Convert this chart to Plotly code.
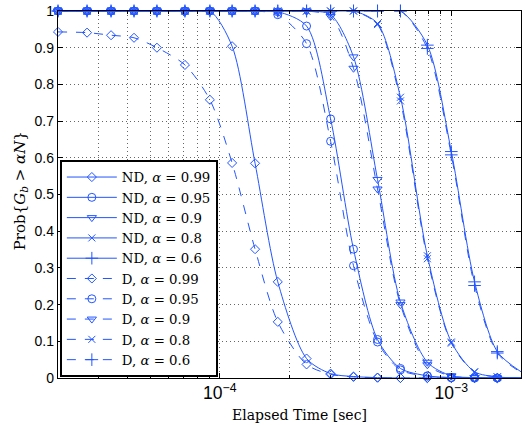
import math
import plotly.graph_objects as go

# elapsed time at the marker positions [sec]
elapsed = [2.0e-5, 2.67e-5, 3.39e-5, 4.26e-5, 5.35e-5, 7.07e-5, 9.06e-5, 1.13e-4,
           1.42e-4, 1.78e-4, 2.37e-4, 3.01e-4, 3.78e-4, 4.80e-4, 6.03e-4, 7.88e-4,
           1.0e-3, 1.26e-3, 1.58e-3, 2.0e-3]

# ND curves (solid)
nd_099 = [1, 1, 1, 1, 1, 1, 1, 0.904, 0.585, 0.262, 0.053, 0.012, 0.004, 0.001,
          0, 0, 0, 0, 0, 0]
nd_095 = [1, 1, 1, 1, 1, 1, 1, 1, 1, 0.998, 0.959, 0.706, 0.351, 0.105, 0.026,
          0.006, 0.001, 0, 0, 0]
nd_09 = [1, 1, 1, 1, 1, 1, 1, 1, 1, 1, 1, 0.99, 0.875, 0.541, 0.207, 0.043,
         0.006, 0.001, 0, 0]
nd_08 = [1, 1, 1, 1, 1, 1, 1, 1, 1, 1, 1, 1, 1, 0.966, 0.765, 0.333, 0.098,
         0.017, 0.003, 0]
nd_06 = [1, 1, 1, 1, 1, 1, 1, 1, 1, 1, 1, 1, 1, 1, 1, 0.907, 0.617, 0.262,
         0.072, 0.017]

# D curves (dashed)
d_099 = [0.943, 0.941, 0.934, 0.927, 0.90, 0.853, 0.758, 0.586, 0.351, 0.153,
         0.037, 0.01, 0.003, 0.001, 0, 0, 0, 0, 0, 0]
d_095 = [1, 1, 1, 1, 1, 1, 1, 1, 1, 0.99, 0.911, 0.645, 0.306, 0.098, 0.022,
         0.005, 0.001, 0, 0, 0]
d_09 = [1, 1, 1, 1, 1, 1, 1, 1, 1, 1, 1, 0.985, 0.844, 0.515, 0.20, 0.036,
        0.005, 0.001, 0, 0]
d_08 = [1, 1, 1, 1, 1, 1, 1, 1, 1, 1, 1, 1, 1, 0.963, 0.755, 0.325, 0.095,
        0.016, 0.003, 0]
d_06 = [1, 1, 1, 1, 1, 1, 1, 1, 1, 1, 1, 1, 1, 1, 1, 0.898, 0.608, 0.252,
        0.068, 0.015]

alphas = ['0.99', '0.95', '0.9', '0.8', '0.6']
symbols = ['diamond-open', 'circle-open', 'triangle-down-open', 'x-thin-open', 'cross-thin-open']
sizes = [7, 8, 8, 7, 9]

blue = 'rgb(35,85,255)'
serif = 'DejaVu Serif'

fig = go.Figure()

for kind, dash, curves in [('ND', 'solid', [nd_099, nd_095, nd_09, nd_08, nd_06]),
                           ('D', 'dash', [d_099, d_095, d_09, d_08, d_06])]:
    for a, sym, sz, ys in zip(alphas, symbols, sizes, curves):
        fig.add_trace(go.Scatter(
            x=elapsed, y=ys, mode='lines+markers',
            name=kind + ', <i>α</i> = ' + a,
            line=dict(color=blue, width=1, dash=dash, shape='spline', smoothing=0.8),
            marker=dict(symbol=sym, size=sz, color=blue, line=dict(width=1, color=blue)),
            cliponaxis=False,
        ))

fig.update_layout(
    width=525, height=425,
    margin=dict(l=58, r=3, t=9, b=47),
    plot_bgcolor='white', paper_bgcolor='white',
    font=dict(family='Liberation Sans', size=14, color='black'),
    showlegend=True,
    legend=dict(
        x=0.004, y=0.003, xanchor='left', yanchor='bottom',
        bgcolor='white', bordercolor='black', borderwidth=2,
        font=dict(family=serif, size=13.3),
        itemwidth=50,
        tracegroupgap=0,
    ),
)

grid = dict(showgrid=True, gridcolor='rgba(0,0,0,0.6)', griddash='1px,3px', gridwidth=1)

fig.update_xaxes(
    type='log', range=[math.log10(2e-5), math.log10(2e-3)],
    dtick=1, exponentformat='power',
    showline=True, linecolor='black', linewidth=1.3, mirror='ticks',
    ticks='inside', ticklen=5, tickcolor='black',
    minor=dict(dtick='D1', ticks='inside', ticklen=3, tickcolor='black', **grid),
    zeroline=False, **grid,
)
fig.update_yaxes(
    range=[0, 1], dtick=0.1,
    showline=True, linecolor='black', linewidth=1.3, mirror='ticks',
    ticks='inside', ticklen=5, tickcolor='black',
    zeroline=False, **grid,
)

# axis titles placed as in the reference
fig.add_annotation(text='Elapsed Time [sec]', xref='paper', yref='paper',
                   x=0.5216, y=-0.1, xanchor='center', yanchor='middle',
                   showarrow=False, font=dict(family=serif, size=14))
fig.add_annotation(text='Prob{<i>G</i><sub><i>b</i></sub> > <i>α</i><i>N</i>}',
                   xref='paper', yref='paper', x=-0.082, y=0.509,
                   xanchor='center', yanchor='middle', textangle=-90,
                   showarrow=False, font=dict(family=serif, size=15))

fig.write_html('out.html', config={'displayModeBar': False},
               post_script="document.body.style.margin='0px';")
